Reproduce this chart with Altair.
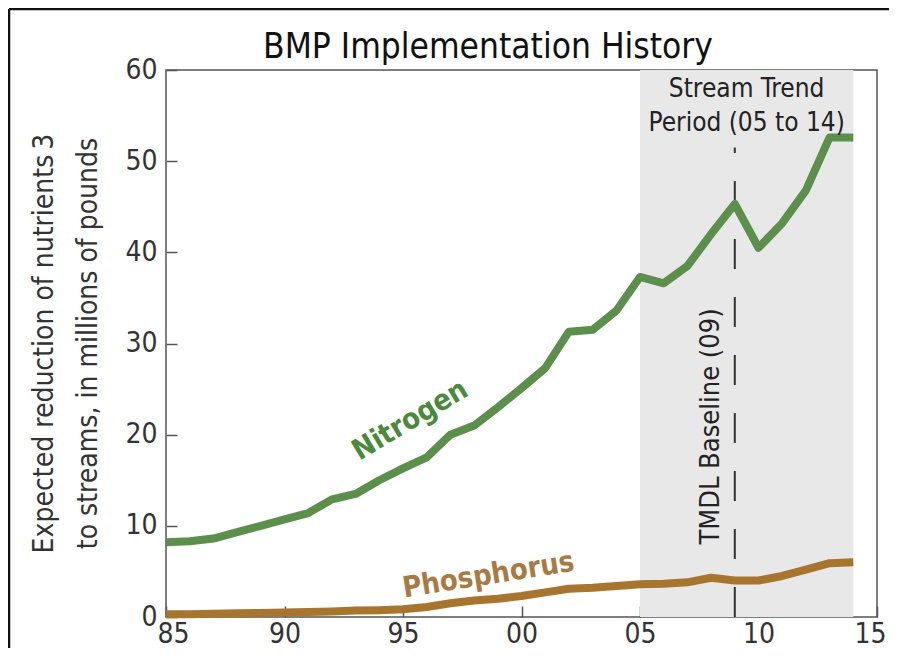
import altair as alt
import pandas as pd

years = list(range(1985, 2015))
nitrogen = [8.2, 8.3, 8.6, 9.3, 10.0, 10.7, 11.4, 12.9, 13.5, 15.0,
            16.3, 17.5, 20.0, 21.0, 23.0, 25.1, 27.3, 31.3, 31.5, 33.6,
            37.3, 36.6, 38.5, 42.0, 45.3, 40.5, 43.2, 46.8, 52.6, 52.6]
phosphorus = [0.3, 0.3, 0.35, 0.4, 0.45, 0.5, 0.55, 0.6, 0.7, 0.75,
              0.85, 1.1, 1.5, 1.8, 2.0, 2.3, 2.7, 3.1, 3.2, 3.4,
              3.6, 3.65, 3.8, 4.3, 4.0, 4.0, 4.5, 5.2, 5.9, 6.0]
series_names = ["Nitrogen", "Phosphorus"]
series_colors = ["#5b8f4b", "#a8752f"]

period_start = [2005]
period_end = [2014]
baseline_year = [2009]
baseline_top = [51.5]

x_ticks = [1985, 1990, 1995, 2000, 2005, 2010, 2015]
y_ticks = [0, 10, 20, 30, 40, 50, 60]

title_text = ["BMP Implementation History"]

label_text = ["Nitrogen", "Phosphorus"]
label_year = [1995.3, 1998.6]
label_value = [21.6, 4.6]
label_angle = [329, 351]
label_color = ["#4a8a3a", "#a87a45"]

period_text = ["Stream Trend", "Period (05 to 14)"]
period_year = [2009.5, 2009.5]
period_value = [57.9, 54.2]

tmdl_text = ["TMDL Baseline (09)"]
tmdl_year = [2008.0]
tmdl_value = [20.9]

FONT = "Liberation Sans Narrow, DejaVu Sans Condensed, Arial Narrow, sans-serif"
W, H = 711, 547

lines_df = pd.DataFrame({
    "year": years * 2,
    "value": nitrogen + phosphorus,
    "series": ["Nitrogen"] * len(years) + ["Phosphorus"] * len(years),
})

xscale = alt.Scale(domain=[1985, 2015], nice=False, zero=False)
yscale = alt.Scale(domain=[0, 60], nice=False)

xaxis = alt.Axis(values=x_ticks, title=None, offset=-11, tickSize=11, domain=False,
                 labelPadding=3, labelFontSize=28, labelFont=FONT, labelColor="#333",
                 tickColor="#555", tickWidth=1.5, labelFlush=True, labelFlushOffset=9,
                 labelExpr="(datum.value % 100) < 10 ? '0' + (datum.value % 100) : '' + (datum.value % 100)")
yaxis = alt.Axis(values=y_ticks, offset=-11, tickSize=11, domain=False,
                 labelPadding=9, labelFontSize=28, labelFont=FONT, labelColor="#333",
                 tickColor="#555", tickWidth=1.5, labelFlush=False,
                 title=["Expected reduction of nutrients\u20093", "to streams, in millions of pounds"],
                 titleFont=FONT, titleFontSize=28, titleFontWeight="normal", titleColor="#333",
                 titleLineHeight=44, titleAngle=270, titleAlign="center", titleBaseline="middle",
                 titleX=-133, titleY=273)

shade = alt.Chart(pd.DataFrame({"s": period_start, "e": period_end, "lo": [0], "hi": [60]})).mark_rect(
    color="#e8e8e9").encode(
    x=alt.X("s:Q", scale=xscale, axis=xaxis), x2="e:Q",
    y=alt.Y("lo:Q", scale=yscale, axis=yaxis), y2="hi:Q")

dash = alt.Chart(pd.DataFrame({"x": baseline_year, "lo": [0], "hi": baseline_top})).mark_rule(
    color="#333", strokeWidth=2, strokeDash=[30, 28]).encode(
    x=alt.X("x:Q", scale=xscale), y=alt.Y("lo:Q", scale=yscale), y2="hi:Q")

lines = alt.Chart(lines_df).mark_line(strokeWidth=8, strokeJoin="round").encode(
    x=alt.X("year:Q", scale=xscale),
    y=alt.Y("value:Q", scale=yscale),
    color=alt.Color("series:N", scale=alt.Scale(domain=series_names, range=series_colors), legend=None),
)

labels = alt.Chart(pd.DataFrame({"t": label_text, "x": label_year, "y": label_value,
                                 "a": label_angle, "c": label_color})).mark_text(
    font=FONT, fontSize=29, fontWeight="bold", align="center", baseline="middle").encode(
    x=alt.X("x:Q", scale=xscale), y=alt.Y("y:Q", scale=yscale), text="t:N",
    angle=alt.Angle("a:Q", scale=None), color=alt.Color("c:N", scale=None))

period = alt.Chart(pd.DataFrame({"t": period_text, "x": period_year, "y": period_value})).mark_text(
    font=FONT, fontSize=26, color="#222", align="center", baseline="middle").encode(
    x=alt.X("x:Q", scale=xscale), y=alt.Y("y:Q", scale=yscale), text="t:N")

tmdl = alt.Chart(pd.DataFrame({"t": tmdl_text, "x": tmdl_year, "y": tmdl_value})).mark_text(
    font=FONT, fontSize=27, color="#222", align="center", baseline="middle", angle=270).encode(
    x=alt.X("x:Q", scale=xscale), y=alt.Y("y:Q", scale=yscale), text="t:N")

title = alt.Chart(pd.DataFrame({"t": title_text})).mark_text(
    font=FONT, fontSize=35, color="#111", align="center", baseline="alphabetic").encode(
    x=alt.value(322), y=alt.value(-12), text="t:N")

one = pd.DataFrame({"a": [0]})
frame_left = alt.Chart(one).mark_rule(color="#111", strokeWidth=2.5).encode(
    x=alt.value(-157), y=alt.value(-61), y2=alt.value(H + 40))
frame_top = alt.Chart(one).mark_rule(color="#111", strokeWidth=2.5).encode(
    x=alt.value(-157), x2=alt.value(W + 12), y=alt.value(-61))

chart = alt.layer(shade, dash, lines, labels, period, tmdl, title, frame_left, frame_top).properties(
    width=W, height=H,
    autosize=alt.AutoSizeParams(type="none"),
    padding={"left": 158, "top": 62, "right": 13, "bottom": 31},
).configure_view(stroke="#555", strokeWidth=1.5).configure_axis(grid=False)

chart.save("out.html", embed_options={"renderer": "svg", "actions": False})
